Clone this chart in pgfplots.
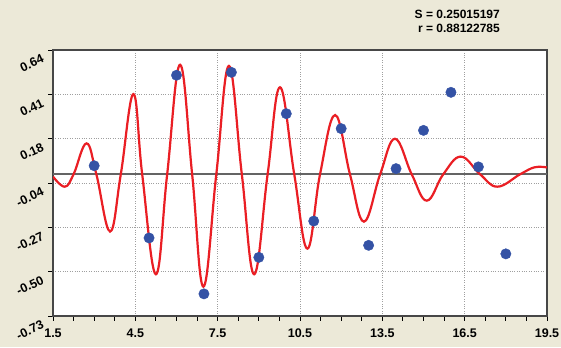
\documentclass[border=0pt]{standalone}
\usepackage{fontspec}
\setmainfont{Liberation Sans}
\usepackage{pgfplots}
\pgfplotsset{compat=1.18}
\definecolor{bgc}{RGB}{236,233,216}
\definecolor{ptc}{RGB}{52,82,165}
\definecolor{crv}{RGB}{234,30,36}
\definecolor{zl}{RGB}{100,100,100}
\begin{document}
\begin{tikzpicture}[x=1bp,y=1bp]
\fill[bgc] (0,0) rectangle (561,347);
\useasboundingbox (0,0) rectangle (561,347);
\node[anchor=base east,font=\fontsize{12bp}{14bp}\selectfont\bfseries,inner sep=0pt] at (500,328.7) {S = 0.25015197};
\node[anchor=base east,font=\fontsize{12bp}{14bp}\selectfont\bfseries,inner sep=0pt] at (500,314.3) {r = 0.88122785};
\begin{axis}[
  at={(53bp,31bp)}, anchor=south west,
  scale only axis, width=494bp, height=266bp,
  xmin=1.5, xmax=19.5, ymin=-0.73, ymax=0.64,
  axis background/.style={fill=white},
  axis line style={draw=black!72, line width=1.5bp},
  xtick={1.5,4.5,7.5,10.5,13.5,16.5,19.5},
  xticklabels={1.5,4.5,7.5,10.5,13.5,16.5,19.5},
  ytick={-0.73,-0.50167,-0.27333,-0.045,0.18333,0.41167,0.64},
  yticklabels={-0.73,-0.50,-0.27,-0.04,0.18,0.41,0.64},
  minor x tick num=3, minor y tick num=3,
  tick pos=left, tick align=outside,
  major tick length=4.5bp, minor tick length=4.5bp,
  every tick/.style={black, line width=0.9bp},
  xmajorgrids, ymajorgrids,
  major grid style={gray!75, dotted, line width=0.7bp},
  tick label style={font=\fontsize{12.5bp}{14bp}\selectfont\bfseries},
  /pgf/number format/assume math mode=true,
  xticklabel style={yshift=-5bp},
  yticklabel style={rotate=25, anchor=north east, xshift=-5bp, yshift=3bp},
  clip=true,
]
\addplot[zl, line width=1.8bp, forget plot] coordinates {(1.5,0) (19.5,0)};
\addplot[crv, line width=2.2bp, smooth, tension=0.68] coordinates {
(1.5,-0.012) (1.93,-0.064) (2.25,0) (2.72,0.159) (3.08,0) (3.58,-0.295)
(3.97,0) (4.43,0.413) (4.75,0) (5.25,-0.515) (5.66,0) (6.13,0.564)
(6.57,0) (6.98,-0.579) (7.45,0) (7.91,0.558) (8.38,0) (8.83,-0.515)
(9.32,0) (9.77,0.448) (10.29,0) (10.77,-0.383) (11.23,0) (11.78,0.305)
(12.32,0) (12.83,-0.244) (13.42,0) (13.96,0.183) (14.57,0) (15.12,-0.136)
(15.72,0) (16.36,0.091) (17.06,0) (17.69,-0.064) (18.52,0) (19.05,0.036)
(19.5,0.035)
};
\addplot[only marks, mark=*, mark size=5.2bp, ptc, mark options={draw=ptc, fill=ptc}] coordinates {
(3,0.044) (5,-0.328) (6,0.51) (7,-0.616) (8,0.525) (9,-0.428) (10,0.312)
(11,-0.241) (12,0.235) (13,-0.366) (14,0.029) (15,0.226) (16,0.422)
(17,0.038) (18,-0.41)
};
\end{axis}
\end{tikzpicture}
\end{document}
